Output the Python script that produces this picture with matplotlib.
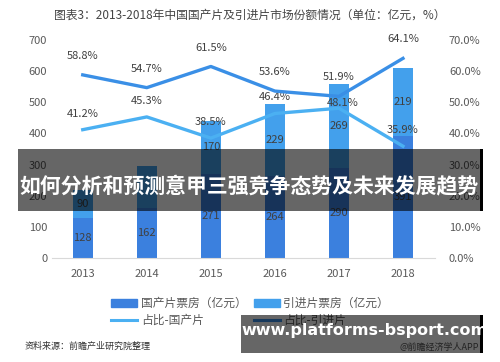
import matplotlib
matplotlib.use("Agg")
from matplotlib import pyplot as plt
from matplotlib.patches import Rectangle
from matplotlib.lines import Line2D
import numpy as np

plt.rcParams['font.family'] = ['Noto Sans CJK SC', 'DejaVu Sans']

years = ['2013', '2014', '2015', '2016', '2017', '2018']
domestic = [128, 162, 271, 264, 290, 391]
imported = [90, 134, 170, 229, 269, 219]
upper_share = [58.8, 54.7, 61.5, 53.6, 51.9, 64.1]
lower_share = [41.2, 45.3, 38.5, 46.4, 48.1, 35.9]
hidden_label = [False, True, False, False, False, False]

title = '图表3：2013-2018年中国国产片及引进片市场份额情况（单位：亿元，%）'
banner = '如何分析和预测意甲三强竞争态势及未来发展趋势'

c_dom = '#3b80de'
c_imp = '#43a0ec'
c_up = '#3a8fe6'
c_low = '#4bb0f2'
txt = '#404040'

W, H = 500, 362
fig = plt.figure(figsize=(5, 3.62), dpi=100)


def fx(x):
    return x / W


def fy(y):
    return 1 - y / H


ax = fig.add_axes([fx(52), fy(258), fx(435) - fx(52), fy(40) - fy(258)])
x = np.arange(len(years))
ax.bar(x, domestic, width=0.31, color=c_dom, zorder=2)
ax.bar(x, imported, width=0.31, bottom=domestic, color=c_imp, zorder=2)
for i in range(len(years)):
    ax.text(x[i], domestic[i] / 2, str(domestic[i]), ha='center', va='center',
            fontsize=8, color=txt, zorder=3)
    if not hidden_label[i]:
        ax.text(x[i], domestic[i] + imported[i] / 2, str(imported[i]),
                ha='center', va='center', fontsize=8, color=txt, zorder=3)

ax.set_ylim(0, 700)
ax.set_xlim(-0.48, 5.5)
ax.set_yticks(range(0, 701, 100))
ax.set_xticks(x)
ax.set_xticklabels(years)
ax.tick_params(length=0, labelsize=8, colors='#595959')
ax.tick_params(axis='x', pad=8)
for s in ['top', 'right', 'left']:
    ax.spines[s].set_visible(False)
ax.spines['bottom'].set_color('#d9d9d9')

ax2 = ax.twinx()
ax2.plot(x, upper_share, color=c_up, lw=2.4, zorder=4)
ax2.plot(x, lower_share, color=c_low, lw=2.4, zorder=4)
for i in range(len(years)):
    ax2.annotate(f'{upper_share[i]}%', (x[i], upper_share[i]), xytext=(0, 10),
                 textcoords='offset points', ha='center', va='bottom',
                 fontsize=8, color=txt)
    dx, dy = (3, 0) if i == 4 else (0, 8)
    ax2.annotate(f'{lower_share[i]}%', (x[i], lower_share[i]), xytext=(dx, dy),
                 textcoords='offset points', ha='center', va='bottom',
                 fontsize=8, color=txt)
ax2.set_ylim(0, 70)
ax2.set_yticks(range(0, 71, 10))
ax2.set_yticklabels([f'{v}.0%' for v in range(0, 71, 10)])
ax2.tick_params(length=0, labelsize=8, colors='#595959', pad=10)
for s in ['top', 'right', 'left', 'bottom']:
    ax2.spines[s].set_visible(False)

fig.text(0.5, fy(15), title, ha='center', va='center', fontsize=8.5, color='#444444')

handles = [Rectangle((0, 0), 1, 1, color=c_dom),
           Line2D([], [], color=c_low, lw=2.2),
           Rectangle((0, 0), 1, 1, color=c_imp),
           Line2D([], [], color=c_up, lw=2.2)]
labels = ['国产片票房（亿元）', '占比-国产片', '引进片票房（亿元）', '占比-引进片']
fig.legend(handles, labels, ncol=2, loc='center', bbox_to_anchor=(fx(250), fy(312)),
           frameon=False, fontsize=8.5, handlelength=2.2, handleheight=0.6,
           columnspacing=0.6, handletextpad=0.3, labelspacing=0.3,
           labelcolor='#595959')

fig.text(fx(25), fy(346), '资料来源：前瞻产业研究院整理', ha='left', va='center',
         fontsize=6.5, style='italic', color='#333333')

# overlay banners
fig.add_artist(Rectangle((fx(18), fy(211)), fx(462), (211 - 149) / H,
                         transform=fig.transFigure, color='black', alpha=0.6,
                         lw=0, zorder=10))
fig.add_artist(Rectangle((fx(480), fy(211)), fx(2.5), (211 - 149) / H,
                         transform=fig.transFigure, color='black', lw=0, zorder=10))
fig.text(fx(249), fy(186), banner, ha='center', va='center', fontsize=15,
         fontweight='bold', color='white', zorder=11)

fig.add_artist(Rectangle((fx(241), fy(353)), fx(239), (353 - 315) / H,
                         transform=fig.transFigure, color='black', alpha=0.6,
                         lw=0, zorder=10))
fig.add_artist(Rectangle((fx(480), fy(353)), fx(3), (353 - 315) / H,
                         transform=fig.transFigure, color='black', lw=0, zorder=10))
fig.text(fx(364), fy(331), 'www.platforms-bsport.com', ha='center', va='center',
         fontsize=11.5, fontweight='bold', color='white', family='DejaVu Sans', zorder=11)
fig.text(fx(479), fy(347), '@前瞻经济学人APP', ha='right', va='center',
         fontsize=6.5, color='#222222', zorder=11)

fig.savefig('out.png', dpi=100)
